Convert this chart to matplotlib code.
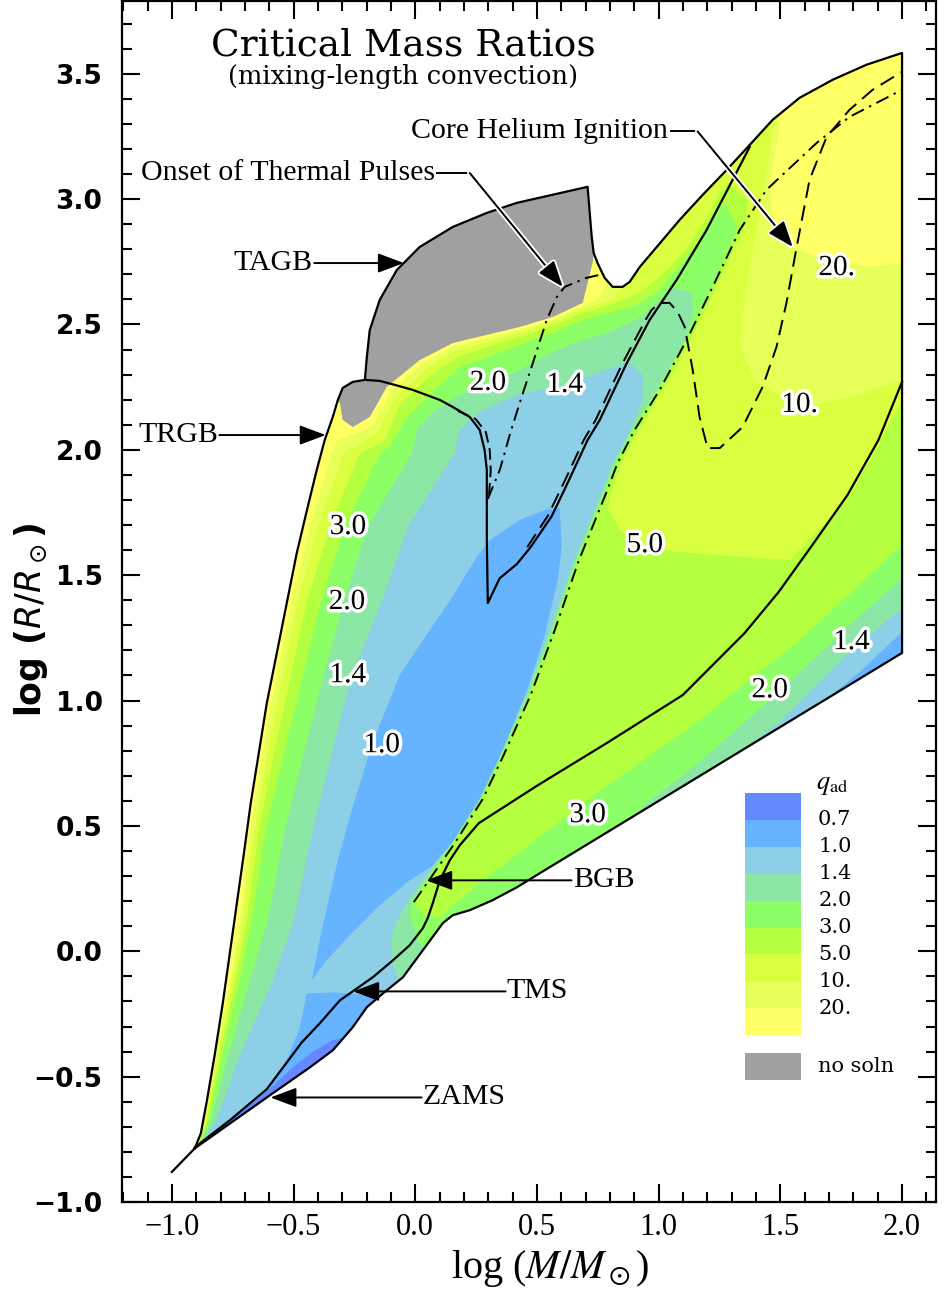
import matplotlib.pyplot as plt
import matplotlib.patheffects as pe
from matplotlib.patches import Polygon, Rectangle
from matplotlib.ticker import MultipleLocator

# q_ad contour levels and band colours (lowest band first)
level_labels = ['0.7', '1.0', '1.4', '2.0', '3.0', '5.0', '10.', '20.']
band_colors = ['#6688ff', '#66b3ff', '#8ccfe6', '#8ce6a6', '#8cff66',
               '#b3ff40', '#d9ff40', '#e6ff59', '#ffff66']
nosoln_color = '#a0a0a0'

# edge of the model grid, (log M, log R)
zams = [(-0.906, -0.786), (-0.610, -0.583), (-0.433, -0.463), (-0.339, -0.395),
        (-0.257, -0.303), (-0.199, -0.223), (-0.133, -0.168), (-0.051, -0.104),
        (0.031, 0.004), (0.113, 0.112), (0.154, 0.144), (0.224, 0.164),
        (0.318, 0.204), (0.417, 0.255), (0.511, 0.311), (2.0, 1.19)]
top_edge = [(2.0, 3.583), (1.854, 3.536), (1.715, 3.476), (1.579, 3.404),
            (1.468, 3.316), (1.374, 3.216), (1.279, 3.116), (1.181, 3.017),
            (1.086, 2.917), (0.992, 2.809), (0.922, 2.729), (0.881, 2.670),
            (0.852, 2.650), (0.811, 2.650), (0.778, 2.686), (0.749, 2.745),
            (0.733, 2.785), (0.725, 2.849), (0.708, 3.049)]
tagb = [(0.417, 2.985), (0.294, 2.945), (0.154, 2.889), (0.018, 2.809),
        (-0.076, 2.717), (-0.146, 2.598), (-0.187, 2.478), (-0.199, 2.370),
        (-0.207, 2.279)]
trgb_bump = [(-0.257, 2.271), (-0.298, 2.247), (-0.318, 2.199), (-0.339, 2.131),
             (-0.372, 2.039)]
left_edge = [(-0.405, 1.919), (-0.442, 1.772), (-0.487, 1.588), (-0.528, 1.389),
             (-0.569, 1.189), (-0.610, 0.990), (-0.643, 0.790), (-0.676, 0.591),
             (-0.704, 0.391), (-0.733, 0.192), (-0.762, -0.008), (-0.791, -0.208),
             (-0.823, -0.407), (-0.856, -0.595), (-0.881, -0.726)]
tip = [(-1.0, -0.88), (-0.906, -0.786)]

# evolutionary phase boundaries
trgb = [(-0.207, 2.279), (-0.146, 2.275), (-0.084, 2.259), (-0.010, 2.239),
        (0.101, 2.199), (0.154, 2.171), (0.224, 2.131), (0.265, 2.079),
        (0.285, 1.999), (0.294, 1.919), (0.294, 1.640), (0.298, 1.389),
        (0.347, 1.488), (0.417, 1.544), (0.474, 1.612), (0.561, 1.736),
        (0.630, 1.876), (0.708, 2.039), (0.758, 2.119), (0.869, 2.346),
        (0.963, 2.518), (1.074, 2.678), (1.197, 2.877), (1.374, 3.208)]
tms = [(-0.906, -0.782), (-0.762, -0.674), (-0.610, -0.550), (-0.466, -0.363),
       (-0.392, -0.287), (-0.310, -0.196), (-0.175, -0.104), (-0.092, -0.036),
       (-0.023, 0.024), (0.031, 0.092), (0.051, 0.132), (0.072, 0.192),
       (0.101, 0.283), (0.142, 0.363), (0.183, 0.423), (0.261, 0.511),
       (0.503, 0.662), (0.786, 0.830), (1.099, 1.022), (1.353, 1.269),
       (1.493, 1.433), (1.637, 1.628), (1.776, 1.820), (1.903, 2.039), (2.0, 2.271)]
bgb = [(-0.006, 0.196), (0.162, 0.431), (0.277, 0.607), (0.359, 0.774),
       (0.474, 1.022), (0.573, 1.281), (0.671, 1.556), (0.786, 1.832),
       (0.831, 1.947), (0.901, 2.079), (1.004, 2.239), (1.115, 2.438),
       (1.222, 2.650), (1.333, 2.877), (1.443, 3.037), (1.649, 3.224),
       (1.784, 3.328), (2.0, 3.436)]
thermal_pulses = [(0.298, 1.804), (0.347, 1.919), (0.388, 2.059), (0.429, 2.187),
                  (0.483, 2.346), (0.540, 2.518), (0.582, 2.610), (0.614, 2.650),
                  (0.704, 2.686), (0.758, 2.698)]
he_ignition_low = [(0.175, 2.155), (0.248, 2.123), (0.290, 2.071), (0.306, 1.999),
                   (0.310, 1.919), (0.302, 1.804)]
he_ignition = [(0.460, 1.612), (0.544, 1.736), (0.614, 1.876), (0.692, 2.039),
               (0.741, 2.119), (0.852, 2.346), (0.946, 2.518), (0.971, 2.558),
               (1.004, 2.586), (1.045, 2.586), (1.078, 2.550), (1.107, 2.490),
               (1.140, 2.318), (1.168, 2.131), (1.201, 2.007), (1.251, 2.007),
               (1.345, 2.091), (1.427, 2.251), (1.484, 2.410), (1.525, 2.586),
               (1.567, 2.809), (1.620, 3.077), (1.690, 3.248), (1.784, 3.356),
               (1.879, 3.436), (2.0, 3.508)]

# regions with q_ad below each level (clipped to the grid)
q_lt20 = [(-0.90, -0.80), (-0.868, -0.674), (-0.826, -0.435), (-0.758, -0.116),
          (-0.720, 0.124), (-0.678, 0.483), (-0.622, 0.822), (-0.569, 1.101),
          (-0.507, 1.393), (-0.433, 1.692), (-0.343, 1.987), (-0.318, 2.039),
          (-0.244, 2.063), (-0.171, 2.103), (-0.101, 2.231), (0.031, 2.346),
          (0.154, 2.410), (0.298, 2.446), (0.429, 2.478), (0.565, 2.518),
          (0.688, 2.574), (0.758, 2.606), (0.786, 2.658), (0.840, 2.797),
          (1.168, 3.555), (1.505, 3.396), (1.489, 3.236), (1.456, 3.077),
          (1.464, 2.945), (1.517, 2.825), (1.649, 2.769), (1.854, 2.729),
          (2.0, 2.745), (2.2, 2.745), (2.2, -1.5), (-1.2, -1.5), (-0.92, -0.85)]
q_lt10 = [(-0.90, -0.80), (-0.862, -0.674), (-0.817, -0.435), (-0.750, -0.116),
          (-0.708, 0.124), (-0.661, 0.483), (-0.602, 0.822), (-0.544, 1.101),
          (-0.483, 1.393), (-0.400, 1.692), (-0.294, 1.987), (-0.236, 2.019),
          (-0.154, 2.071), (-0.084, 2.207), (0.043, 2.322), (0.162, 2.394),
          (0.298, 2.430), (0.429, 2.466), (0.565, 2.510), (0.688, 2.562),
          (0.799, 2.598), (0.873, 2.662), (0.922, 2.837), (1.168, 3.196),
          (1.456, 3.416), (1.476, 3.324), (1.456, 3.196), (1.435, 3.057),
          (1.415, 2.937), (1.382, 2.777), (1.353, 2.598), (1.333, 2.418),
          (1.394, 2.279), (1.509, 2.207), (1.649, 2.179), (1.784, 2.211),
          (2.0, 2.279), (2.2, 2.279), (2.2, -1.5), (-1.2, -1.5), (-0.92, -0.85)]
q_lt5 = [(-0.90, -0.80), (-0.855, -0.674), (-0.808, -0.435), (-0.738, -0.116),
         (-0.692, 0.124), (-0.643, 0.483), (-0.573, 0.822), (-0.511, 1.101),
         (-0.446, 1.393), (-0.351, 1.692), (-0.228, 1.987), (-0.179, 2.007),
         (-0.125, 2.039), (-0.064, 2.179), (0.060, 2.294), (0.175, 2.370),
         (0.298, 2.410), (0.429, 2.450), (0.565, 2.494), (0.688, 2.546),
         (0.799, 2.578), (0.922, 2.626), (1.045, 2.725), (1.127, 2.817),
         (1.189, 2.909), (1.242, 3.005), (1.283, 3.065), (1.366, 2.997),
         (1.349, 2.877), (1.238, 2.650), (1.131, 2.438), (1.020, 2.239),
         (0.918, 2.079), (0.848, 1.947), (0.807, 1.832), (0.791, 1.768),
         (0.840, 1.680), (0.922, 1.612), (1.086, 1.592), (1.251, 1.580),
         (1.538, 1.560), (1.776, 1.800), (1.903, 2.019), (2.0, 2.199),
         (2.2, 2.199), (2.2, -1.5), (-1.2, -1.5), (-0.92, -0.85)]
q_lt3 = [(-0.90, -0.80), (-0.848, -0.674), (-0.797, -0.435), (-0.722, -0.116),
         (-0.672, 0.124), (-0.614, 0.483), (-0.532, 0.822), (-0.462, 1.101),
         (-0.388, 1.393), (-0.290, 1.692), (-0.146, 1.987), (-0.105, 2.011),
         (-0.043, 2.119), (0.080, 2.239), (0.183, 2.330), (0.298, 2.370),
         (0.429, 2.418), (0.565, 2.466), (0.688, 2.518), (0.799, 2.546),
         (0.922, 2.582), (1.004, 2.638), (1.099, 2.749), (1.168, 2.837),
         (1.218, 2.917), (1.271, 2.985), (1.324, 2.885), (1.218, 2.650),
         (1.111, 2.438), (1.000, 2.239), (0.897, 2.079), (0.827, 1.947),
         (0.782, 1.832), (0.667, 1.556), (0.569, 1.281), (0.470, 1.022),
         (0.355, 0.774), (0.273, 0.607), (0.158, 0.431), (-0.010, 0.196),
         (0.039, 0.144), (0.101, 0.132), (0.121, 0.156), (0.306, 0.303),
         (0.708, 0.603), (1.168, 0.922), (1.579, 1.241), (2.0, 1.620),
         (2.2, 1.620), (2.2, -1.5), (-1.2, -1.5), (-0.92, -0.85)]
q_lt2 = [(-0.90, -0.80), (-0.836, -0.674), (-0.774, -0.435), (-0.680, -0.116),
         (-0.606, 0.124), (-0.536, 0.483), (-0.450, 0.822), (-0.376, 1.101),
         (-0.294, 1.393), (-0.195, 1.692), (-0.014, 1.987), (0.010, 2.087),
         (0.080, 2.159), (0.183, 2.219), (0.298, 2.267), (0.429, 2.318),
         (0.565, 2.390), (0.688, 2.438), (0.799, 2.470), (0.922, 2.526),
         (1.004, 2.598), (1.066, 2.646), (1.136, 2.630), (1.144, 2.550),
         (1.107, 2.438), (0.992, 2.239), (0.889, 2.079), (0.819, 1.947),
         (0.774, 1.832), (0.659, 1.556), (0.561, 1.281), (0.464, 1.022),
         (0.347, 0.774), (0.265, 0.607), (0.148, 0.431), (-0.018, 0.196),
         (-0.023, 0.144), (0.010, 0.044), (0.060, -0.016), (0.142, 0.044),
         (0.758, 0.403), (0.963, 0.603), (1.168, 0.754), (1.460, 1.006),
         (1.784, 1.301), (2.0, 1.488), (2.2, 1.488), (2.2, -1.5), (-1.2, -1.5),
         (-0.92, -0.85)]
q_lt14 = [(-0.90, -0.80), (-0.815, -0.674), (-0.729, -0.435), (-0.585, -0.116),
          (-0.499, 0.124), (-0.421, 0.483), (-0.335, 0.822), (-0.261, 1.101),
          (-0.138, 1.393), (-0.031, 1.692), (0.162, 1.987), (0.183, 2.079),
          (0.265, 2.151), (0.417, 2.219), (0.614, 2.259), (0.758, 2.310),
          (0.881, 2.350), (0.934, 2.298), (0.934, 2.199), (0.881, 2.071),
          (0.811, 1.947), (0.766, 1.832), (0.651, 1.556), (0.552, 1.281),
          (0.456, 1.022), (0.339, 0.774), (0.257, 0.607), (0.142, 0.431),
          (-0.027, 0.204), (-0.064, 0.144), (-0.097, 0.064), (-0.097, -0.028),
          (-0.064, -0.136), (1.251, 0.642), (1.333, 0.794), (1.497, 0.914),
          (1.792, 1.201), (2.0, 1.369), (2.2, 1.369), (2.2, -1.5), (-1.2, -1.5),
          (-0.92, -0.85)]
q_lt1_core = [(-0.425, -0.116), (-0.384, 0.084), (-0.318, 0.363), (-0.261, 0.563),
              (-0.179, 0.822), (-0.064, 1.101), (0.060, 1.281), (0.150, 1.409),
              (0.244, 1.560), (0.306, 1.640), (0.429, 1.720), (0.532, 1.760),
              (0.593, 1.768), (0.602, 1.620), (0.585, 1.480), (0.532, 1.261),
              (0.460, 1.041), (0.359, 0.802), (0.265, 0.607), (0.150, 0.431),
              (0.068, 0.339), (-0.023, 0.283), (-0.146, 0.184), (-0.269, 0.064),
              (-0.372, -0.044)]
q_lt1_low = [(-0.446, -0.168), (-0.331, -0.164), (-0.187, -0.176), (-0.084, -0.156),
             (0.018, -0.235), (-0.639, -0.754), (-0.885, -0.894), (-0.90, -0.80),
             (-0.873, -0.766), (-0.762, -0.702), (-0.626, -0.567), (-0.528, -0.435),
             (-0.474, -0.303)]
q_lt1_ms = [(1.579, 0.882), (1.661, 0.982), (1.825, 1.113), (2.0, 1.273),
            (2.2, 1.273), (2.2, 0.6), (1.579, 0.6)]
q_lt07 = [(-0.906, -0.782), (-0.760, -0.670), (-0.610, -0.560), (-0.500, -0.460),
          (-0.420, -0.400), (-0.340, -0.355), (-0.290, -0.345), (-0.260, -0.450),
          (-0.885, -0.914)]
no_solution = [(0.708, 3.049), (0.725, 2.849), (0.733, 2.785), (0.729, 2.749),
               (0.688, 2.586), (0.565, 2.530), (0.429, 2.490), (0.154, 2.426),
               (0.018, 2.358), (-0.117, 2.251), (-0.187, 2.131), (-0.257, 2.091),
               (-0.298, 2.119), (-0.310, 2.187), (-0.318, 2.199), (-0.298, 2.247),
               (-0.257, 2.271), (-0.207, 2.279), (-0.199, 2.370), (-0.187, 2.478),
               (-0.146, 2.598), (-0.076, 2.717), (0.018, 2.809), (0.154, 2.889),
               (0.294, 2.945), (0.417, 2.985)]

# contour value labels
contour_labels = [(-0.277, 1.692, '3.0'), (-0.281, 1.393, '2.0'),
                  (-0.277, 1.101, '1.4'), (-0.138, 0.822, '1.0'),
                  (0.298, 2.267, '2.0'), (0.614, 2.259, '1.4'),
                  (0.943, 1.620, '5.0'), (1.731, 2.725, '20.'),
                  (1.579, 2.179, '10.'), (0.708, 0.543, '3.0'),
                  (1.456, 1.041, '2.0'), (1.792, 1.233, '1.4')]

fig = plt.figure(figsize=(9.5, 13.03), dpi=100)
ax = fig.add_axes([0.1284, 0.0775, 0.857, 0.9217])

domain_pts = zams + top_edge + tagb + trgb_bump + left_edge
domain = Polygon(domain_pts, closed=True, facecolor=band_colors[8],
                 edgecolor='none', zorder=1)
ax.add_patch(domain)


def fill_region(pts, color):
    xs, ys = zip(*pts)
    patch, = ax.fill(xs, ys, facecolor=color, edgecolor='none', zorder=1)
    patch.set_clip_path(domain)


for pts, color in [(q_lt20, band_colors[7]), (q_lt10, band_colors[6]),
                   (q_lt5, band_colors[5]), (q_lt3, band_colors[4]),
                   (q_lt2, band_colors[3]), (q_lt14, band_colors[2]),
                   (q_lt1_core, band_colors[1]), (q_lt1_low, band_colors[1]),
                   (q_lt1_ms, band_colors[1]), (q_lt07, band_colors[0]),
                   (no_solution, nosoln_color)]:
    fill_region(pts, color)


def curve(pts, lw=1.6, **kw):
    xs, ys = zip(*pts)
    ax.plot(xs, ys, color='black', lw=lw, zorder=3, solid_joinstyle='round', **kw)


curve(domain_pts + domain_pts[:1])
curve(tip)
curve(trgb)
curve(tms)
dashdot = (0, (7, 3, 1.2, 3))
curve(bgb, lw=1.4, linestyle=dashdot)
curve(thermal_pulses, lw=1.4, linestyle=dashdot)
curve(he_ignition_low, lw=1.4, linestyle=(0, (6, 3)))
curve(he_ignition, lw=1.4, linestyle=(0, (8, 4)))

halo = [pe.withStroke(linewidth=5, foreground='white')]
for x, y, s in contour_labels:
    ax.text(x, y, s, fontsize=21, family='Liberation Serif', ha='center',
            va='center', zorder=5, path_effects=halo)

# phase annotations
arrow = dict(arrowstyle='-|>,head_length=0.8,head_width=0.3', color='black',
             lw=1.4, mutation_scale=20, shrinkA=0, shrinkB=0)
ann_font = dict(fontsize=21.5, family='Liberation Serif', va='center')

ax.text(1.039, 3.27, 'Core Helium Ignition', ha='right', **ann_font)
ax.plot([1.05, 1.16], [3.27, 3.27], color='black', lw=1.4, zorder=4)
a = ax.annotate('', xy=(1.551, 2.809), xytext=(1.16, 3.27), arrowprops=arrow,
                zorder=4)
a.arrow_patch.set_path_effects([pe.withStroke(linewidth=4, foreground='white')])

ax.text(0.08, 3.104, 'Onset of Thermal Pulses', ha='right', **ann_font)
ax.plot([0.09, 0.224], [3.104, 3.104], color='black', lw=1.4, zorder=4)
a = ax.annotate('', xy=(0.606, 2.650), xytext=(0.224, 3.104), arrowprops=arrow,
                zorder=4)
a.arrow_patch.set_path_effects([pe.withStroke(linewidth=4, foreground='white')])

ax.text(-0.421, 2.745, 'TAGB', ha='right', **ann_font)
ax.annotate('', xy=(-0.047, 2.745), xytext=(-0.415, 2.745), arrowprops=arrow)
ax.text(-0.811, 2.059, 'TRGB', ha='right', **ann_font)
ax.annotate('', xy=(-0.368, 2.059), xytext=(-0.805, 2.059), arrowprops=arrow)
ax.text(0.647, 0.283, 'BGB', ha='left', **ann_font)
ax.annotate('', xy=(0.045, 0.283), xytext=(0.642, 0.283), arrowprops=arrow)
ax.text(0.376, -0.160, 'TMS', ha='left', **ann_font)
ax.annotate('', xy=(-0.255, -0.160), xytext=(0.371, -0.160), arrowprops=arrow)
ax.text(0.031, -0.583, 'ZAMS', ha='left', **ann_font)
ax.annotate('', xy=(-0.595, -0.583), xytext=(0.026, -0.583), arrowprops=arrow)

# title block
ax.text(0.345, 0.963, 'Critical Mass Ratios', transform=ax.transAxes,
        ha='center', va='center', fontsize=27, family='DejaVu Serif')
ax.text(0.345, 0.937, '(mixing-length convection)', transform=ax.transAxes,
        ha='center', va='center', fontsize=18.5, family='DejaVu Serif')

# colour key
key_x, key_w = 0.7654, 0.0688
key_top, key_step = 0.3405, 0.0224
for i, c in enumerate(band_colors):
    ax.add_patch(Rectangle((key_x, key_top - (i + 1) * key_step), key_w, key_step,
                           transform=ax.transAxes, facecolor=c, edgecolor='none',
                           zorder=4))
for i, s in enumerate(level_labels):
    ax.text(0.855, key_top - (i + 1) * key_step, s, transform=ax.transAxes,
            ha='left', va='center', fontsize=15, family='DejaVu Serif')
ax.add_patch(Rectangle((key_x, 0.1016), key_w, 0.0225, transform=ax.transAxes,
                       facecolor=nosoln_color, edgecolor='none', zorder=4))
ax.text(0.855, 0.1132, 'no soln', transform=ax.transAxes, ha='left',
        va='center', fontsize=15, family='DejaVu Serif')
ax.text(0.852, 0.348, r'$q_{\rm ad}$', transform=ax.transAxes, ha='left',
        va='center', fontsize=19, math_fontfamily='stix')

ax.set_xlim(-1.205, 2.14)
ax.set_ylim(-1.0, 3.79)
for axis in (ax.xaxis, ax.yaxis):
    axis.set_major_locator(MultipleLocator(0.5))
    axis.set_minor_locator(MultipleLocator(0.1))
ax.tick_params(which='both', direction='in', top=True, right=True, width=1.5)
ax.tick_params(which='major', length=13)
ax.tick_params(which='minor', length=7)
ax.tick_params(axis='x', labelsize=22, pad=8)
ax.tick_params(axis='y', labelsize=19, pad=14)
for lab in ax.get_xticklabels():
    lab.set_fontfamily('Liberation Serif')
for lab in ax.get_yticklabels():
    lab.set_fontfamily('DejaVu Sans')
    lab.set_fontweight('bold')
for sp in ax.spines.values():
    sp.set_linewidth(1.6)

ax.set_xlabel(r'log ($M/M_\odot$)', fontsize=29, family='Liberation Serif',
              math_fontfamily='stix')
ax.xaxis.set_label_coords(0.526, -0.038)
ax.set_ylabel(r'log ($R/R_\odot$)', fontsize=25, fontweight='bold',
              family='DejaVu Sans', math_fontfamily='dejavusans')
ax.yaxis.set_label_coords(-0.088, 0.485)

fig.savefig('out.png', dpi=100)
